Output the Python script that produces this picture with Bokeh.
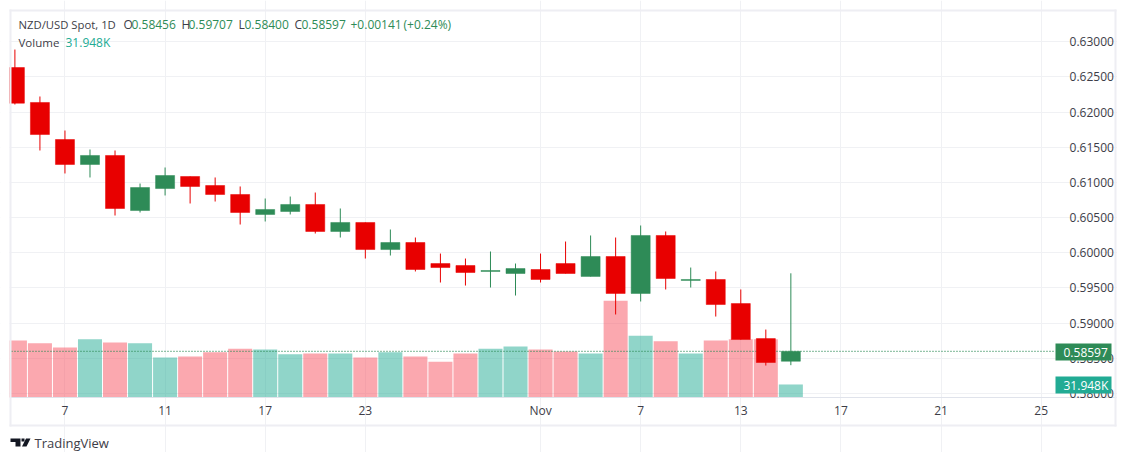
from bokeh.plotting import figure
from bokeh.embed import file_html
from bokeh.resources import INLINE
from bokeh.models import (Range1d, FixedTicker, NumeralTickFormatter, Label,
                          BoxAnnotation, PolyAnnotation, ColumnDataSource)

index = list(range(32))
opens = [.62634, .62137, .61610, .61255, .61383, .60600, .60913, .61084, .60956, .60828, .60544, .60586,
         .60686, .60302, .60430, .60045, .60145, .59846, .59818, .59733, .59704, .59761, .59846, .59662,
         .59946, .59420, .60245, .59605, .59619, .59277, .58779, .58456]
closes = [.62127, .61681, .61255, .61383, .60629, .60927, .61098, .60942, .60828, .60572, .60615, .60686,
          .60302, .60430, .60045, .60145, .59761, .59789, .59718, .59747, .59775, .59619, .59704, .59946,
          .59420, .60245, .59633, .59619, .59263, .58765, .58438, .58597]
highs = [.62890, .62222, .61738, .61468, .61454, .60984, .61212, .61084, .61070, .60942, .60771, .60799,
         .60856, .60629, .60430, .60330, .60216, .59988, .59917, .60017, .59846, .59988, .60159, .60245,
         .60216, .60387, .60302, .59789, .59733, .59477, .58907, .59707]
lows = [.62108, .61454, .61127, .61070, .60529, .60572, .60814, .60700, .60728, .60401, .60444, .60544,
        .60273, .60216, .59917, .59960, .59733, .59576, .59533, .59505, .59391, .59576, .59704, .59662,
        .59121, .59306, .59477, .59505, .59092, .58765, .58395, .58400]
volumes = [140, 133, 123, 143, 135, 133, 98, 101, 111, 120, 118, 106, 108, 108, 98, 111, 101, 88, 108,
           120, 125, 118, 113, 108, 238, 152, 138, 108, 140, 143, 143, 31.948]
x_ticks = [2, 6, 10, 14, 21, 25, 29, 33, 37, 41]
x_tick_labels = ["7", "11", "17", "23", "Nov", "7", "13", "17", "21", "25"]
price_ticks = [0.58, 0.585, 0.59, 0.595, 0.60, 0.605, 0.61, 0.615, 0.62, 0.625, 0.63]
last_close = 0.58597

UP, DOWN = "#2e8b57", "#e80000"
GRID, BORDER, TXT = "#f0f1f4", "#eeeef3", "#3d3d47"
FONT = "Open Sans"
W, H = 1117, 452

# plot area limits inside the full-canvas frame
plot_left, plot_right = -0.136, 41.575
plot_bottom, plot_top = 0.57940, 0.63431

p = figure(width=W, height=H, output_backend="svg", toolbar_location=None,
           x_range=Range1d(-0.5753, 44.05), y_range=Range1d(0.57158, 0.635875),
           min_border_left=0, min_border_top=0, min_border_right=0, min_border_bottom=0,
           y_axis_location="right", tools="")
p.outline_line_color = None
p.extra_y_ranges = {"vol": Range1d(-135.2, 975.6)}

p.xaxis.ticker = FixedTicker(ticks=x_ticks)
p.xaxis.major_label_overrides = dict(zip(x_ticks, x_tick_labels))
p.yaxis.ticker = FixedTicker(ticks=price_ticks)
p.yaxis.formatter = NumeralTickFormatter(format="0.00000")
for ax in (p.xaxis[0], p.yaxis[0]):
    ax.major_tick_line_color = None
    ax.minor_tick_line_color = None
    ax.major_label_text_font = FONT
    ax.major_label_text_font_size = "12px"
    ax.major_label_text_color = TXT
p.yaxis[0].fixed_location = plot_right
p.xaxis[0].fixed_location = plot_bottom
p.xaxis[0].bounds = (plot_left, 44.0)
p.yaxis.axis_line_color = None
p.yaxis.major_label_standoff = 8
p.xaxis.axis_line_color = "#e0e3eb"
p.xaxis.major_label_standoff = -2
p.xgrid.bounds = (plot_bottom, plot_top)
p.ygrid.bounds = (plot_left, plot_right)
p.grid.grid_line_color = GRID
p.grid.grid_line_width = 1

colors_v = ["#22ab94" if c >= o else "#f7525f" for o, c in zip(opens, closes)]
src = ColumnDataSource(dict(
    x=index, vol=volumes, vc=colors_v,
    top=[max(o, c) for o, c in zip(opens, closes)],
    bottom=[min(o, c) for o, c in zip(opens, closes)],
    high=highs, low=lows,
    color=[UP if c >= o else DOWN for o, c in zip(opens, closes)],
))
p.vbar(x="x", top="vol", bottom=0, width=0.96, fill_color="vc", fill_alpha=0.5, line_color=None,
       y_range_name="vol", source=src)
p.line([plot_left, plot_right], [last_close, last_close], line_color=UP, line_dash="1 2", line_width=1.4)
p.segment(x0="x", x1="x", y0="low", y1="high", line_color="color", line_width=1, source=src)
p.vbar(x="x", top="top", bottom="bottom", width=0.76, fill_color="color", line_color="color",
       line_width=0.5, source=src)


def label(x, y, text, color=TXT, size="12px", level="overlay"):
    p.add_layout(Label(x=x, y=y, x_units="canvas", y_units="canvas", text=text, text_color=color,
                       text_font=FONT, text_font_size=size, text_baseline="middle", level=level))


def box(l, t, r, b, color):
    p.add_layout(BoxAnnotation(left=l, right=r, top=t, bottom=b,
                               left_units="canvas", right_units="canvas",
                               top_units="canvas", bottom_units="canvas",
                               fill_color=color, fill_alpha=1, line_color=None, level="overlay"))


box(0, 0, 9, 452, "#ffffff")
box(9, 9, 1116, 11, BORDER)
box(9, 424, 1116, 426, BORDER)
box(9, 9, 11, 426, BORDER)
box(1114, 9, 1116, 426, BORDER)

label(18, 24, "NZD/USD Spot, 1D", size="11.3px")
for xp, t, c in [(123, "O", TXT), (131, "0.58456", UP), (181, "H", TXT), (188, "0.59707", UP),
                 (238, "L", TXT), (244, "0.58400", UP), (294, "C", TXT), (301, "0.58597", UP),
                 (350, "+0.00141", UP), (403, "(+0.24%)", UP)]:
    label(xp, 24, t, c)
label(18, 41.5, "Volume", size="11.5px")
label(65, 41.5, "31.948K", "#22ab94")
label(34, 442.5, "TradingView", "#3d3d47", "13px")

box(1055, 343, 1111, 360, UP)
label(1063, 351.5, "0.58597", "#ffffff")
box(1055, 376, 1111, 393, "#22ab94")
label(1063, 384.5, "31.948K", "#ffffff")

# logo
for xs, ys in [([10, 20, 20, 15, 15, 10], [438, 438, 446, 446, 441.5, 441.5]),
               ([21, 24, 24, 21], [438, 438, 441, 441]),
               ([25.5, 30, 26, 21.5], [438, 438, 446, 446])]:
    p.add_layout(PolyAnnotation(xs=xs, ys=ys, xs_units="canvas", ys_units="canvas",
                                fill_color="#131722", fill_alpha=1, line_color=None, level="overlay"))

open("out.html", "w").write(file_html(p, INLINE))
